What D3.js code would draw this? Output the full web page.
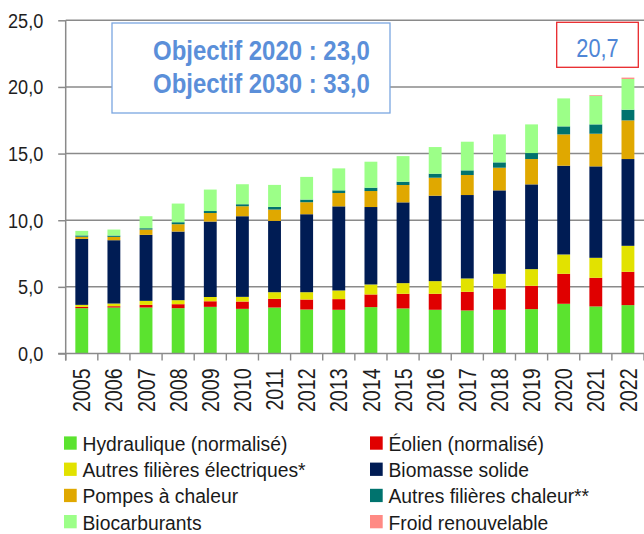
<!DOCTYPE html>
<html>
<head>
<meta charset="utf-8">
<script src="https://cdn.jsdelivr.net/npm/d3@7"></script>
<style>
  html, body { margin: 0; padding: 0; background: #fff; }
  svg { display: block; font-family: "Liberation Sans", Arial, sans-serif; }
</style>
</head>
<body>
<svg id="chart" width="644" height="534"></svg>
<script>
// Part des énergies renouvelables (%) par filière, 2005–2022
const years = ["2005","2006","2007","2008","2009","2010","2011","2012","2013",
               "2014","2015","2016","2017","2018","2019","2020","2021","2022"];

const hydraulique   = [3.40,3.45,3.45,3.40,3.50,3.35,3.45,3.30,3.28,3.48,3.38,3.28,3.23,3.28,3.33,3.73,3.53,3.63];
const eolien        = [0.10,0.10,0.20,0.30,0.42,0.55,0.65,0.75,0.80,0.95,1.10,1.20,1.40,1.60,1.75,2.25,2.15,2.50];
const autresElec    = [0.15,0.20,0.30,0.30,0.32,0.35,0.50,0.55,0.65,0.75,0.80,0.95,1.00,1.10,1.25,1.45,1.50,1.95];
const biomasse      = [4.95,4.75,4.95,5.15,5.66,6.05,5.35,5.85,6.31,5.81,6.06,6.41,6.26,6.26,6.36,6.66,6.86,6.51];
const pompesChaleur = [0.16,0.25,0.40,0.55,0.64,0.75,0.85,0.90,1.00,1.20,1.30,1.35,1.50,1.70,1.90,2.35,2.45,2.90];
const autresChaleur = [0.10,0.10,0.10,0.15,0.15,0.15,0.20,0.20,0.20,0.25,0.25,0.30,0.35,0.40,0.45,0.60,0.70,0.80];
const biocarburants = [0.34,0.45,0.90,1.40,1.61,1.50,1.65,1.70,1.65,1.95,1.92,2.00,2.15,2.10,2.15,2.10,2.15,2.31];
const froid         = [0,0,0,0,0,0,0,0,0,0,0,0,0,0,0,0,0.05,0.10];

const seriesNames = ["Hydraulique (normalisé)","Éolien (normalisé)","Autres filières électriques*",
                     "Biomasse solide","Pompes à chaleur","Autres filières chaleur**",
                     "Biocarburants","Froid renouvelable"];
const seriesValues = [hydraulique, eolien, autresElec, biomasse, pompesChaleur, autresChaleur, biocarburants, froid];
const seriesColors = ["#5be32f","#e00000","#e2e200","#001c54","#e0a800","#00736e","#9cff88","#ff8a84"];

const yTicks = [0, 5, 10, 15, 20, 25];
const objectifs = ["Objectif 2020 : 23,0", "Objectif 2030 : 33,0"];
const totalLabel = "20,7";

const svg = d3.select("#chart");
const plotLeft = 65.7, plotRight = 644, plotTop = 20.3, plotBottom = 353.5;

const x = d3.scaleBand().domain(years).range([plotLeft, plotRight]).paddingInner(0.6).paddingOuter(0.3);
const y = d3.scaleLinear().domain([0, 25]).range([plotBottom, plotTop]);

const fmt = v => d3.format(".1f")(v).replace(".", ",");
const gridColor = "#8a8a8a";

// Horizontal gridlines
svg.append("g").selectAll("line").data(yTicks.filter(d => d > 0)).join("line")
  .attr("x1", plotLeft).attr("x2", plotRight)
  .attr("y1", d => y(d)).attr("y2", d => y(d))
  .attr("stroke", gridColor).attr("stroke-width", 1.5);

// Stacked bars
const rows = years.map((yr, i) => {
  const r = { year: yr };
  seriesNames.forEach((n, k) => r[n] = seriesValues[k][i]);
  return r;
});
const stack = d3.stack().keys(seriesNames)(rows);

svg.append("g").selectAll("g").data(stack).join("g")
  .attr("fill", (d, k) => seriesColors[k])
  .selectAll("rect").data(d => d).join("rect")
  .attr("x", d => x(d.data.year))
  .attr("width", x.bandwidth())
  .attr("y", d => y(d[1]))
  .attr("height", d => Math.max(0, y(d[0]) - y(d[1])));

// Y axis
const yAxisG = svg.append("g").attr("transform", `translate(${plotLeft},0)`)
  .call(d3.axisLeft(y).tickValues(yTicks).tickSize(7.5).tickFormat(fmt));
yAxisG.select(".domain").remove();
yAxisG.selectAll(".tick line").attr("stroke", gridColor).attr("stroke-width", 1.5);
yAxisG.selectAll(".tick text")
  .attr("x", null).attr("dy", null)
  .attr("text-anchor", "end")
  .attr("font-size", 19.5)
  .attr("fill", "#1e1e1e")
  .attr("transform", `translate(${43.3 - plotLeft},7) scale(0.93,1)`);
svg.append("line")
  .attr("x1", plotLeft).attr("x2", plotLeft).attr("y1", plotTop).attr("y2", plotBottom + 7)
  .attr("stroke", gridColor).attr("stroke-width", 1.5);

// X axis: baseline, ticks between categories, rotated labels
const step = x.step();
const x0 = x(years[0]) - (step - x.bandwidth()) / 2;
svg.append("line")
  .attr("x1", plotLeft - 7.5).attr("x2", plotRight).attr("y1", plotBottom).attr("y2", plotBottom)
  .attr("stroke", gridColor).attr("stroke-width", 1.5);
svg.append("g").selectAll("line").data(d3.range(years.length + 1)).join("line")
  .attr("x1", i => x0 + i * step).attr("x2", i => x0 + i * step)
  .attr("y1", plotBottom).attr("y2", plotBottom + 7)
  .attr("stroke", gridColor).attr("stroke-width", 1.4);

const xAxisG = svg.append("g").attr("transform", `translate(0,${plotBottom})`)
  .call(d3.axisBottom(x).tickSize(0));
xAxisG.select(".domain").remove();
xAxisG.selectAll(".tick text")
  .attr("y", null).attr("dy", null)
  .attr("text-anchor", "end")
  .attr("font-size", 24)
  .attr("fill", "#1e1e1e")
  .attr("transform", `translate(8.6,14.8) rotate(-90) scale(0.82,1)`);

// Objectives box
svg.append("rect")
  .attr("x", 112).attr("y", 23).attr("width", 278).attr("height", 90)
  .attr("fill", "#fff").attr("stroke", "#7aa6e0").attr("stroke-width", 1.3);
svg.append("g").selectAll("text").data(objectifs).join("text")
  .attr("transform", (d, i) => `translate(153,${59.5 + i * 33.2}) scale(0.887,1)`)
  .attr("font-size", 27).attr("font-weight", "bold").attr("fill", "#5b8fd9")
  .text(d => d);

// 2022 total box
svg.append("rect")
  .attr("x", 556.7).attr("y", 22.3).attr("width", 81.6).attr("height", 45)
  .attr("fill", "#fff").attr("stroke", "#e8272b").attr("stroke-width", 1.3);
svg.append("text")
  .attr("transform", `translate(597.5,56.7) scale(0.87,1)`)
  .attr("text-anchor", "middle")
  .attr("font-size", 25).attr("fill", "#4f86d6")
  .text(totalLabel);

// Legend (two columns, four rows)
const legendPos = (k) => ({ col: k % 2, row: Math.floor(k / 2) });
const legend = svg.append("g").selectAll("g").data(seriesNames).join("g")
  .attr("transform", (d, k) => {
    const p = legendPos(k);
    return `translate(${p.col ? 370 : 64},${451 + p.row * 26.2})`;
  });
legend.append("rect")
  .attr("x", 0).attr("y", -14.6).attr("width", 12.7).attr("height", 13.3)
  .attr("fill", (d, k) => seriesColors[k]);
legend.append("text")
  .attr("transform", "translate(18.5,0) scale(0.92,1)")
  .attr("font-size", 21).attr("fill", "#1a1a1a")
  .text(d => d);
</script>
</body>
</html>
